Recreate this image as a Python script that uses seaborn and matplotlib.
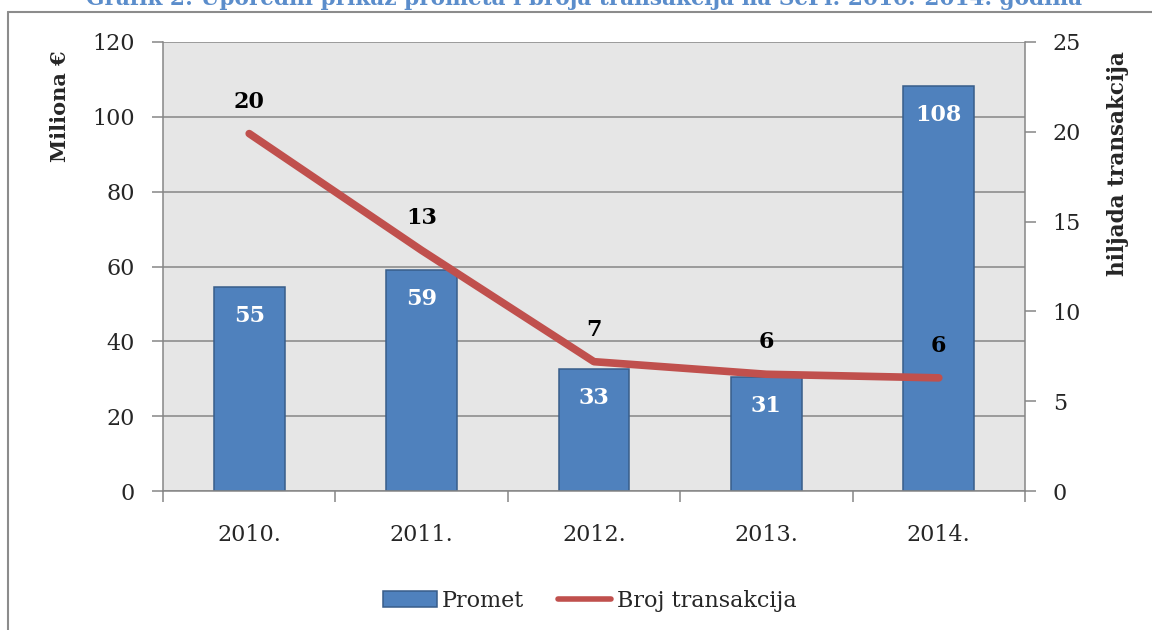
import matplotlib
matplotlib.use("Agg")
import matplotlib.pyplot as plt
import matplotlib.lines as mlines
import matplotlib.patches as mpatches
import seaborn as sns
import pandas as pd
import numpy as np

years = ["2010.", "2011.", "2012.", "2013.", "2014."]
promet = [54.6, 59.1, 32.7, 30.6, 108.2]          # Milione €
transakcije = [19.9, 13.4, 7.2, 6.5, 6.3]          # hiljada transakcija
promet_labels = ["55", "59", "33", "31", "108"]
trans_labels = ["20", "13", "7", "6", "6"]
title = "Grafik 2: Uporedni prikaz prometa i broja transakcija na SePi: 2010.-2014. godina"

df = pd.DataFrame({"Godina": years, "Promet": promet, "Broj transakcija": transakcije})

sns.set_theme(style="white")
plt.rcParams["font.family"] = ["DejaVu Serif"]

BAR = "#4F81BD"
BAR_EDGE = "#385D8A"
LINE = "#C0504D"
GRID = "#868686"
FS = 16

fig = plt.figure(figsize=(11.52, 6.3), dpi=100)
ax = fig.add_axes([163/1152, 1-491/630, (1025-163)/1152, (491-42)/630])
ax.set_facecolor("#E6E6E6")

sns.barplot(data=df, x="Godina", y="Promet", ax=ax, color=BAR, width=0.41,
            edgecolor=BAR_EDGE, linewidth=1.1, saturation=1)
ax.set_ylim(0, 120)
ax.set_xlim(-0.5, 4.5)
ax.set_yticks(range(0, 121, 20))
ax.yaxis.grid(True, color=GRID, linewidth=1.1)
ax.set_axisbelow(True)
ax.set_xlabel("")
ax.set_ylabel("Miliona €", fontsize=15, fontweight="bold", labelpad=0)
ax.yaxis.set_label_coords(-0.108, 0.857)

for s in ["left", "bottom"]:
    ax.spines[s].set_color(GRID)
    ax.spines[s].set_linewidth(1.1)
ax.spines["top"].set_visible(False)
ax.spines["right"].set_visible(False)

ax.tick_params(axis="y", which="both", direction="out", length=8, width=1.1, color=GRID,
               labelsize=FS, pad=12, left=True)
ax.tick_params(axis="x", which="major", length=0, labelsize=FS, pad=24)
ax.set_xticks(np.arange(-0.5, 5, 1), minor=True)
ax.tick_params(axis="x", which="minor", direction="out", length=8, width=1.1, color=GRID, bottom=True)

for i, (v, lab) in enumerate(zip(promet, promet_labels)):
    ax.annotate(lab, xy=(i, v), xytext=(0, -21), textcoords="offset points",
                ha="center", va="center", color="white", fontsize=FS, fontweight="bold")

ax2 = ax.twinx()
ax2.patch.set_visible(False)
sns.lineplot(data=df, x="Godina", y="Broj transakcija", ax=ax2, color=LINE,
             linewidth=5.5, sort=False, solid_capstyle="round")
ax2.set_ylim(0, 25)
ax2.set_xlim(-0.5, 4.5)
ax2.set_yticks(range(0, 26, 5))
ax2.set_ylabel("hiljada transakcija", fontsize=15.5, fontweight="bold")
ax2.yaxis.set_label_coords(1.095, 0.73)
for s in ["left", "top", "bottom"]:
    ax2.spines[s].set_visible(False)
ax2.spines["right"].set_color(GRID)
ax2.spines["right"].set_linewidth(1.1)
ax2.tick_params(axis="y", direction="out", length=8, width=1.1, color=GRID,
                labelsize=FS, pad=12, right=True)
ax2.grid(False)

for i, (v, lab) in enumerate(zip(transakcije, trans_labels)):
    ax2.annotate(lab, xy=(i, v), xytext=(0, 23), textcoords="offset points",
                 ha="center", va="center", color="black", fontsize=FS, fontweight="bold")

# legend
h1 = mpatches.Patch(facecolor=BAR, edgecolor=BAR_EDGE, linewidth=1.1, label="Promet")
h2 = mlines.Line2D([], [], color=LINE, linewidth=4, label="Broj transakcija")
fig.legend(handles=[h1, h2], loc="center", bbox_to_anchor=(0.512, 0.046), ncol=2,
           frameon=False, fontsize=FS, handlelength=2.4, handletextpad=0.25, columnspacing=1.5)

# outer chart border (only left/top visible in crop)
fig.add_artist(mlines.Line2D([8/1152, 8/1152], [0, 1-12/630], transform=fig.transFigure,
                             color="#8C8C8C", linewidth=1.5))
fig.add_artist(mlines.Line2D([8/1152, 1], [1-12/630, 1-12/630], transform=fig.transFigure,
                             color="#8C8C8C", linewidth=1.5))

# clipped title (cut at the top edge as in the reference)
fig.text(0.507, 1-5/630, title, ha="center", va="baseline", fontsize=15.6,
         fontweight="bold", color="#5B8DCB")

fig.savefig("out.png", dpi=100)
